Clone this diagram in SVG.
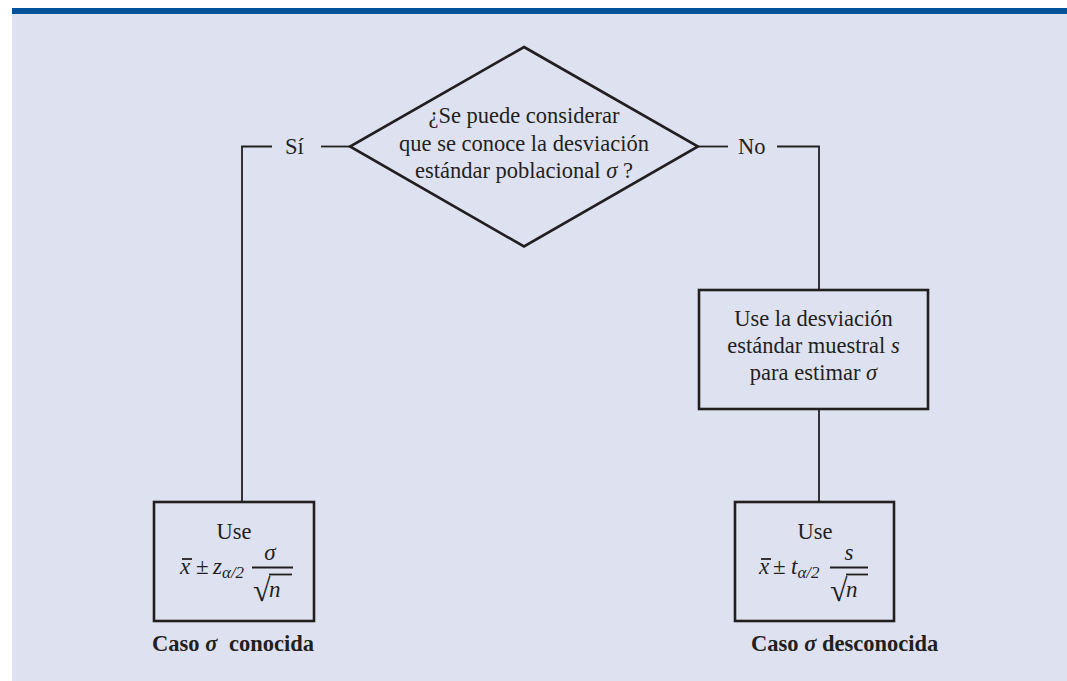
<svg xmlns="http://www.w3.org/2000/svg" width="1067" height="681" viewBox="0 0 1067 681">
<style>
  .t{font-family:"Liberation Serif","Times New Roman",serif;font-size:22.5px;fill:#231f20}
  .f{font-size:23px}
  .c{text-anchor:middle}
  .i{font-style:italic}
  .b{font-weight:bold}
  .sub{font-size:17px}
  .rad{font-size:32px}
  .ln{stroke:#231f20;stroke-width:1.8;fill:none}
  .box{stroke:#231f20;stroke-width:2.6;fill:none}
</style>
<rect x="0" y="0" width="1067" height="681" fill="#ffffff"/>
<rect x="12" y="14" width="1055" height="667" fill="#dee2f0"/>
<rect x="12" y="8" width="1055" height="6" fill="#00529b"/>

<g id="connectors">
  <polyline class="ln" points="272,146.5 242,146.5 242,502"/>
  <line class="ln" x1="321" y1="146.5" x2="350" y2="146.5"/>
  <line class="ln" x1="698" y1="146.5" x2="728" y2="146.5"/>
  <polyline class="ln" points="777,146.5 819,146.5 819,290"/>
  <line class="ln" x1="819" y1="409" x2="819" y2="502"/>
  <text class="t" x="285" y="154">Sí</text>
  <text class="t" x="738" y="154">No</text>
</g>

<g id="decision">
  <polygon class="box" stroke-width="2" points="524,47 698,146.5 524,246.5 350,146.5"/>
  <text class="t c" x="524" y="123">¿Se puede considerar</text>
  <text class="t c" x="524" y="150.5">que se conoce la desviación</text>
  <text class="t c" x="524" y="178">estándar poblacional <tspan class="i">σ</tspan> ?</text>
</g>

<g id="sample-sd">
  <rect class="box" x="699" y="290" width="229" height="119"/>
  <text class="t c" x="813.5" y="326">Use la desviación</text>
  <text class="t c" x="813.5" y="353">estándar muestral <tspan class="i">s</tspan></text>
  <text class="t c" x="813.5" y="380">para estimar <tspan class="i">σ</tspan></text>
</g>

<g id="known">
  <rect class="box" x="154" y="502" width="160" height="119"/>
  <text class="t c" x="234" y="539">Use</text>
  <text class="t f i" x="180" y="574">x</text>
  <line class="ln" stroke-width="1" x1="182" y1="559" x2="192" y2="559"/>
  <text class="t f" x="196" y="574">±</text>
  <text class="t f i" x="213" y="574">z<tspan class="sub" dy="4">α/2</tspan></text>
  <text class="t f i c" x="270" y="560">σ</text>
  <line class="ln" stroke-width="1.2" x1="252" y1="567.5" x2="293" y2="567.5"/>
  <text class="t rad" x="253" y="601">√</text>
  <line class="ln" stroke-width="1.2" x1="269" y1="574.5" x2="292" y2="574.5"/>
  <text class="t f i" x="269" y="597">n</text>
  <text class="t b" x="152" y="651">Caso <tspan class="i">σ</tspan><tspan dx="6"> conocida</tspan></text>
</g>

<g id="unknown">
  <rect class="box" x="735" y="502" width="159" height="119"/>
  <text class="t c" x="815" y="539">Use</text>
  <text class="t f i" x="759" y="574">x</text>
  <line class="ln" stroke-width="1" x1="761" y1="559" x2="771" y2="559"/>
  <text class="t f" x="773" y="574">±</text>
  <text class="t f i" x="791" y="574">t<tspan class="sub" dy="4">α/2</tspan></text>
  <text class="t f i c" x="849" y="560">s</text>
  <line class="ln" stroke-width="1.2" x1="830" y1="567.5" x2="868" y2="567.5"/>
  <text class="t rad" x="830" y="601">√</text>
  <line class="ln" stroke-width="1.2" x1="846" y1="574.5" x2="868" y2="574.5"/>
  <text class="t f i" x="846" y="597">n</text>
  <text class="t b" x="751" y="651">Caso <tspan class="i">σ</tspan> desconocida</text>
</g>
</svg>
